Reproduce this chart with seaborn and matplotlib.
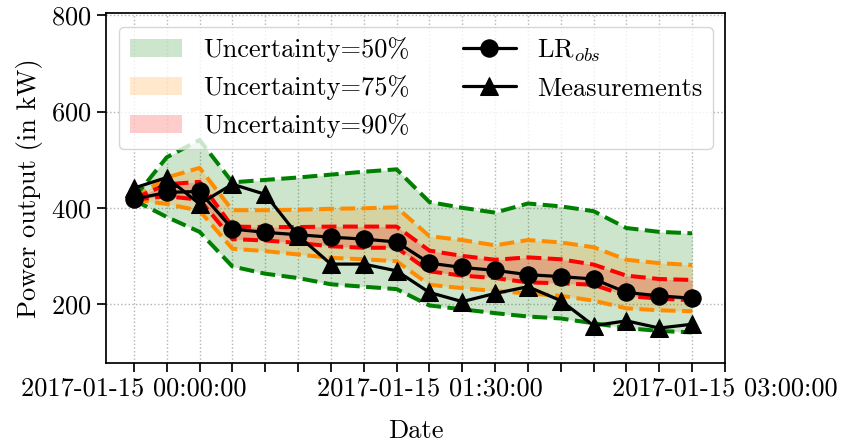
import numpy as np
import pandas as pd
import matplotlib
matplotlib.use("Agg")
import matplotlib.pyplot as plt
import matplotlib.dates as mdates
import matplotlib.ticker as mticker
import seaborn as sns

# ---- data ----
times = pd.date_range("2017-01-15 00:00:00", periods=18, freq="10min")
lr_obs = [418, 432, 434, 356, 349, 344, 339, 335, 329, 285, 276, 270, 261, 257, 252, 224, 217, 212]
measurements = [441, 463, 408, 449, 428, 342, 283, 283, 269, 224, 205, 222, 236, 207, 155, 165, 150, 158]
unc50_upper = [420, 505, 541, 453, 458, 463, 469, 475, 480, 412, 400, 390, 409, 403, 393, 358, 350, 347]
unc50_lower = [416, 381, 350, 278, 263, 254, 241, 236, 231, 197, 189, 181, 174, 170, 160, 150, 144, 141]
unc75_upper = [419, 463, 483, 395, 395, 396, 398, 399, 401, 341, 333, 322, 333, 328, 318, 292, 285, 281]
unc75_lower = [417, 408, 394, 315, 310, 303, 296, 293, 289, 240, 233, 227, 222, 217, 207, 191, 187, 185]
unc90_upper = [419, 449, 454, 361, 360, 360, 361, 361, 361, 311, 300, 292, 297, 293, 282, 259, 252, 250]
unc90_lower = [417, 424, 417, 335, 332, 327, 320, 317, 317, 268, 259, 254, 245, 243, 240, 217, 211, 208]

bands = [
    ("Uncertainty=50%", unc50_lower, unc50_upper, "green"),
    ("Uncertainty=75%", unc75_lower, unc75_upper, "darkorange"),
    ("Uncertainty=90%", unc90_lower, unc90_upper, "red"),
]

fs = 19

sns.set_theme(style="ticks", rc={
    "axes.edgecolor": "black", "xtick.color": "black", "ytick.color": "black",
    "text.color": "black", "axes.labelcolor": "black", "axes.linewidth": 1.25,
})
plt.rcParams["font.family"] = ["cmr10", "DejaVu Serif"]
plt.rcParams["mathtext.fontset"] = "cm"
plt.rcParams["axes.formatter.use_mathtext"] = True
plt.rcParams["font.size"] = fs

fig, ax = plt.subplots(figsize=(8.43, 4.42), dpi=100)
fig.subplots_adjust(left=0.1257, right=0.86, top=0.9695, bottom=0.1794)

df = pd.DataFrame({"time": times, "lr": lr_obs, "meas": measurements})

for label, low, up, color in bands:
    ax.fill_between(times, low, up, color=color, alpha=0.2, linewidth=0, label=label)
for label, low, up, color in bands:
    sns.lineplot(x=times, y=low, ax=ax, color=color, linestyle="--", linewidth=2.9, legend=False)
    sns.lineplot(x=times, y=up, ax=ax, color=color, linestyle="--", linewidth=2.9, legend=False)

sns.lineplot(data=df, x="time", y="lr", ax=ax, color="black", marker="o", markersize=12.5,
             linewidth=2.3, markeredgecolor="black", label=r"LR$_{obs}$")
sns.lineplot(data=df, x="time", y="meas", ax=ax, color="black", marker="^", markersize=12.5,
             linewidth=2.3, markeredgecolor="black", label="Measurements")

major = pd.date_range("2017-01-15 00:00:00", periods=3, freq="90min")
minor = pd.date_range("2017-01-15 00:00:00", periods=19, freq="10min")
ax.xaxis.set_major_locator(mticker.FixedLocator(mdates.date2num(major)))
ax.xaxis.set_minor_locator(mticker.FixedLocator(mdates.date2num(minor)))
ax.xaxis.set_major_formatter(mdates.DateFormatter("%Y-%m-%d %H:%M:%S"))
ax.set_xlim(times[0] - pd.Timedelta(minutes=8.5), pd.Timestamp("2017-01-15 03:00:00"))
ax.set_ylim(78, 804)
ax.set_yticks([200, 400, 600, 800])
ax.tick_params(axis="both", which="both", length=6.3, width=1.25, labelsize=fs, pad=4)

ax.grid(True, axis="x", which="both", linestyle=":", color="0.7", linewidth=1)
ax.grid(True, axis="y", which="major", linestyle=":", color="0.7", linewidth=1)

ax.set_xlabel("Date", fontsize=fs, labelpad=13)
ax.set_ylabel("Power output (in kW)", fontsize=fs, labelpad=6)

ax.legend(loc="upper left", ncol=2, fontsize=fs, frameon=True, fancybox=True,
          edgecolor="0.8", framealpha=0.8)

fig.savefig("out.png", dpi=100)
